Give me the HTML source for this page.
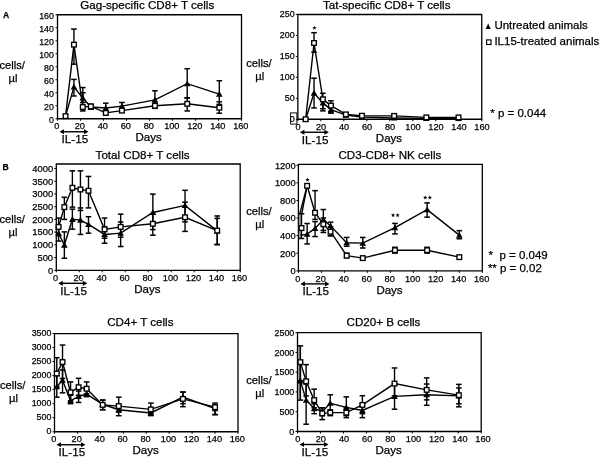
<!DOCTYPE html>
<html><head><meta charset="utf-8"><style>
html,body{margin:0;padding:0;background:#fff;}
body{width:600px;height:457px;overflow:hidden;}
svg{display:block;will-change:transform;}
text{font-family:"Liberation Sans", sans-serif;fill:#000;stroke:#000;stroke-width:0.25px;}
</style></head><body>
<svg width="600" height="457" viewBox="0 0 600 457">
<path d="M57.50 14.75 H241.50 V118.75 H57.50 Z" fill="none" stroke="#000" stroke-width="1.3"/>
<line x1="55.50" y1="118.75" x2="57.50" y2="118.75" stroke="#000" stroke-width="1"/>
<text x="53.90" y="122.65" font-size="8.8" text-anchor="end" font-weight="normal">0</text>
<line x1="55.50" y1="105.75" x2="57.50" y2="105.75" stroke="#000" stroke-width="1"/>
<text x="53.90" y="109.65" font-size="8.8" text-anchor="end" font-weight="normal">20</text>
<line x1="55.50" y1="92.75" x2="57.50" y2="92.75" stroke="#000" stroke-width="1"/>
<text x="53.90" y="96.65" font-size="8.8" text-anchor="end" font-weight="normal">40</text>
<line x1="55.50" y1="79.75" x2="57.50" y2="79.75" stroke="#000" stroke-width="1"/>
<text x="53.90" y="83.65" font-size="8.8" text-anchor="end" font-weight="normal">60</text>
<line x1="55.50" y1="66.75" x2="57.50" y2="66.75" stroke="#000" stroke-width="1"/>
<text x="53.90" y="70.65" font-size="8.8" text-anchor="end" font-weight="normal">80</text>
<line x1="55.50" y1="53.75" x2="57.50" y2="53.75" stroke="#000" stroke-width="1"/>
<text x="53.90" y="57.65" font-size="8.8" text-anchor="end" font-weight="normal">100</text>
<line x1="55.50" y1="40.75" x2="57.50" y2="40.75" stroke="#000" stroke-width="1"/>
<text x="53.90" y="44.65" font-size="8.8" text-anchor="end" font-weight="normal">120</text>
<line x1="55.50" y1="27.75" x2="57.50" y2="27.75" stroke="#000" stroke-width="1"/>
<text x="53.90" y="31.65" font-size="8.8" text-anchor="end" font-weight="normal">140</text>
<line x1="55.50" y1="14.75" x2="57.50" y2="14.75" stroke="#000" stroke-width="1"/>
<text x="53.90" y="18.65" font-size="8.8" text-anchor="end" font-weight="normal">160</text>
<line x1="57.50" y1="118.75" x2="57.50" y2="120.75" stroke="#000" stroke-width="1"/>
<text x="56.80" y="129.35" font-size="9.2" text-anchor="middle" font-weight="normal">0</text>
<line x1="80.50" y1="118.75" x2="80.50" y2="120.75" stroke="#000" stroke-width="1"/>
<text x="79.80" y="129.35" font-size="9.2" text-anchor="middle" font-weight="normal">20</text>
<line x1="103.50" y1="118.75" x2="103.50" y2="120.75" stroke="#000" stroke-width="1"/>
<text x="102.80" y="129.35" font-size="9.2" text-anchor="middle" font-weight="normal">40</text>
<line x1="126.50" y1="118.75" x2="126.50" y2="120.75" stroke="#000" stroke-width="1"/>
<text x="125.80" y="129.35" font-size="9.2" text-anchor="middle" font-weight="normal">60</text>
<line x1="149.50" y1="118.75" x2="149.50" y2="120.75" stroke="#000" stroke-width="1"/>
<text x="148.80" y="129.35" font-size="9.2" text-anchor="middle" font-weight="normal">80</text>
<line x1="172.50" y1="118.75" x2="172.50" y2="120.75" stroke="#000" stroke-width="1"/>
<text x="171.80" y="129.35" font-size="9.2" text-anchor="middle" font-weight="normal">100</text>
<line x1="195.50" y1="118.75" x2="195.50" y2="120.75" stroke="#000" stroke-width="1"/>
<text x="194.80" y="129.35" font-size="9.2" text-anchor="middle" font-weight="normal">120</text>
<line x1="218.50" y1="118.75" x2="218.50" y2="120.75" stroke="#000" stroke-width="1"/>
<text x="217.80" y="129.35" font-size="9.2" text-anchor="middle" font-weight="normal">140</text>
<line x1="241.50" y1="118.75" x2="241.50" y2="120.75" stroke="#000" stroke-width="1"/>
<text x="240.80" y="129.35" font-size="9.2" text-anchor="middle" font-weight="normal">160</text>
<line x1="73.94" y1="29.05" x2="73.94" y2="64.15" stroke="#000" stroke-width="1.4"/>
<line x1="71.14" y1="29.05" x2="76.74" y2="29.05" stroke="#000" stroke-width="1.5"/>
<line x1="71.14" y1="64.15" x2="76.74" y2="64.15" stroke="#000" stroke-width="1.5"/>
<line x1="82.80" y1="87.55" x2="82.80" y2="110.95" stroke="#000" stroke-width="1.4"/>
<line x1="80.00" y1="87.55" x2="85.60" y2="87.55" stroke="#000" stroke-width="1.5"/>
<line x1="80.00" y1="110.95" x2="85.60" y2="110.95" stroke="#000" stroke-width="1.5"/>
<line x1="90.85" y1="104.45" x2="90.85" y2="108.35" stroke="#000" stroke-width="1.4"/>
<line x1="88.05" y1="104.45" x2="93.65" y2="104.45" stroke="#000" stroke-width="1.5"/>
<line x1="88.05" y1="108.35" x2="93.65" y2="108.35" stroke="#000" stroke-width="1.5"/>
<line x1="105.80" y1="110.95" x2="105.80" y2="114.85" stroke="#000" stroke-width="1.4"/>
<line x1="103.00" y1="110.95" x2="108.60" y2="110.95" stroke="#000" stroke-width="1.5"/>
<line x1="103.00" y1="114.85" x2="108.60" y2="114.85" stroke="#000" stroke-width="1.5"/>
<line x1="121.90" y1="109.00" x2="121.90" y2="112.25" stroke="#000" stroke-width="1.4"/>
<line x1="119.10" y1="109.00" x2="124.70" y2="109.00" stroke="#000" stroke-width="1.5"/>
<line x1="119.10" y1="112.25" x2="124.70" y2="112.25" stroke="#000" stroke-width="1.5"/>
<line x1="154.91" y1="103.15" x2="154.91" y2="108.35" stroke="#000" stroke-width="1.4"/>
<line x1="152.10" y1="103.15" x2="157.71" y2="103.15" stroke="#000" stroke-width="1.5"/>
<line x1="152.10" y1="108.35" x2="157.71" y2="108.35" stroke="#000" stroke-width="1.5"/>
<line x1="187.22" y1="97.95" x2="187.22" y2="110.95" stroke="#000" stroke-width="1.4"/>
<line x1="184.42" y1="97.95" x2="190.02" y2="97.95" stroke="#000" stroke-width="1.5"/>
<line x1="184.42" y1="110.95" x2="190.02" y2="110.95" stroke="#000" stroke-width="1.5"/>
<line x1="219.31" y1="101.85" x2="219.31" y2="113.22" stroke="#000" stroke-width="1.4"/>
<line x1="216.50" y1="101.85" x2="222.11" y2="101.85" stroke="#000" stroke-width="1.5"/>
<line x1="216.50" y1="113.22" x2="222.11" y2="113.22" stroke="#000" stroke-width="1.5"/>
<line x1="73.94" y1="79.42" x2="73.94" y2="96.00" stroke="#000" stroke-width="1.4"/>
<line x1="71.14" y1="79.42" x2="76.74" y2="79.42" stroke="#000" stroke-width="1.5"/>
<line x1="71.14" y1="96.00" x2="76.74" y2="96.00" stroke="#000" stroke-width="1.5"/>
<line x1="82.80" y1="92.75" x2="82.80" y2="102.50" stroke="#000" stroke-width="1.4"/>
<line x1="80.00" y1="92.75" x2="85.60" y2="92.75" stroke="#000" stroke-width="1.5"/>
<line x1="80.00" y1="102.50" x2="85.60" y2="102.50" stroke="#000" stroke-width="1.5"/>
<line x1="90.85" y1="104.45" x2="90.85" y2="109.00" stroke="#000" stroke-width="1.4"/>
<line x1="88.05" y1="104.45" x2="93.65" y2="104.45" stroke="#000" stroke-width="1.5"/>
<line x1="88.05" y1="109.00" x2="93.65" y2="109.00" stroke="#000" stroke-width="1.5"/>
<line x1="105.80" y1="103.15" x2="105.80" y2="111.60" stroke="#000" stroke-width="1.4"/>
<line x1="103.00" y1="103.15" x2="108.60" y2="103.15" stroke="#000" stroke-width="1.5"/>
<line x1="103.00" y1="111.60" x2="108.60" y2="111.60" stroke="#000" stroke-width="1.5"/>
<line x1="121.90" y1="102.50" x2="121.90" y2="109.00" stroke="#000" stroke-width="1.4"/>
<line x1="119.10" y1="102.50" x2="124.70" y2="102.50" stroke="#000" stroke-width="1.5"/>
<line x1="119.10" y1="109.00" x2="124.70" y2="109.00" stroke="#000" stroke-width="1.5"/>
<line x1="154.91" y1="90.80" x2="154.91" y2="105.75" stroke="#000" stroke-width="1.4"/>
<line x1="152.10" y1="90.80" x2="157.71" y2="90.80" stroke="#000" stroke-width="1.5"/>
<line x1="152.10" y1="105.75" x2="157.71" y2="105.75" stroke="#000" stroke-width="1.5"/>
<line x1="187.22" y1="68.70" x2="187.22" y2="97.95" stroke="#000" stroke-width="1.4"/>
<line x1="184.42" y1="68.70" x2="190.02" y2="68.70" stroke="#000" stroke-width="1.5"/>
<line x1="184.42" y1="97.95" x2="190.02" y2="97.95" stroke="#000" stroke-width="1.5"/>
<line x1="219.31" y1="80.72" x2="219.31" y2="104.45" stroke="#000" stroke-width="1.4"/>
<line x1="216.50" y1="80.72" x2="222.11" y2="80.72" stroke="#000" stroke-width="1.5"/>
<line x1="216.50" y1="104.45" x2="222.11" y2="104.45" stroke="#000" stroke-width="1.5"/>
<polyline points="65.55,116.15 73.94,44.65 82.80,107.05 90.85,106.40 105.80,112.90 121.90,110.62 154.91,105.75 187.22,103.80 219.31,107.70" fill="none" stroke="#000" stroke-width="1.4" stroke-linejoin="miter"/>
<polyline points="65.55,116.15 73.94,86.90 82.80,97.95 90.85,107.05 105.80,108.03 121.90,106.08 154.91,99.90 187.22,83.65 219.31,94.05" fill="none" stroke="#000" stroke-width="1.4" stroke-linejoin="miter"/>
<path d="M62.25 118.76 L65.55 112.96 L68.85 118.76 Z" fill="#000"/>
<path d="M70.64 89.51 L73.94 83.71 L77.24 89.51 Z" fill="#000"/>
<path d="M79.50 100.56 L82.80 94.76 L86.10 100.56 Z" fill="#000"/>
<path d="M87.55 109.66 L90.85 103.86 L94.15 109.66 Z" fill="#000"/>
<path d="M102.50 110.64 L105.80 104.84 L109.10 110.64 Z" fill="#000"/>
<path d="M118.60 108.69 L121.90 102.89 L125.20 108.69 Z" fill="#000"/>
<path d="M151.60 102.51 L154.91 96.71 L158.21 102.51 Z" fill="#000"/>
<path d="M183.92 86.26 L187.22 80.46 L190.52 86.26 Z" fill="#000"/>
<path d="M216.00 96.66 L219.31 90.86 L222.61 96.66 Z" fill="#000"/>
<rect x="63.22" y="113.83" width="4.65" height="4.65" fill="#fff" stroke="#000" stroke-width="1.35"/>
<rect x="71.62" y="42.33" width="4.65" height="4.65" fill="#fff" stroke="#000" stroke-width="1.35"/>
<rect x="80.47" y="104.72" width="4.65" height="4.65" fill="#fff" stroke="#000" stroke-width="1.35"/>
<rect x="88.52" y="104.08" width="4.65" height="4.65" fill="#fff" stroke="#000" stroke-width="1.35"/>
<rect x="103.47" y="110.58" width="4.65" height="4.65" fill="#fff" stroke="#000" stroke-width="1.35"/>
<rect x="119.58" y="108.30" width="4.65" height="4.65" fill="#fff" stroke="#000" stroke-width="1.35"/>
<rect x="152.58" y="103.42" width="4.65" height="4.65" fill="#fff" stroke="#000" stroke-width="1.35"/>
<rect x="184.90" y="101.47" width="4.65" height="4.65" fill="#fff" stroke="#000" stroke-width="1.35"/>
<rect x="216.98" y="105.38" width="4.65" height="4.65" fill="#fff" stroke="#000" stroke-width="1.35"/>
<line x1="62.50" y1="131.75" x2="85.50" y2="131.75" stroke="#000" stroke-width="1.4"/>
<path d="M59.50 131.75 L64.00 129.15 L64.00 134.35 Z" fill="#000"/>
<path d="M88.50 131.75 L84.00 129.15 L84.00 134.35 Z" fill="#000"/>
<text x="61.50" y="143.25" font-size="11.7" text-anchor="start" font-weight="normal">IL-15</text>
<text x="135.50" y="141.35" font-size="11.5" text-anchor="start" font-weight="normal">Days</text>
<text x="80.30" y="8.50" font-size="11.6" text-anchor="start" font-weight="normal">Gag-specific CD8+ T cells</text>
<text x="-0.60" y="68.50" font-size="11.2" text-anchor="start" font-weight="normal">cells/</text>
<text x="8.50" y="81.90" font-size="11.2" text-anchor="start" font-weight="normal">µl</text>
<path d="M297.85 14.50 H481.75 V119.25 H297.85 Z" fill="none" stroke="#000" stroke-width="1.3"/>
<line x1="295.85" y1="119.25" x2="297.85" y2="119.25" stroke="#000" stroke-width="1"/>
<text x="294.65" y="122.15" font-size="8.9" text-anchor="end" font-weight="normal">0</text>
<line x1="295.85" y1="98.30" x2="297.85" y2="98.30" stroke="#000" stroke-width="1"/>
<text x="294.65" y="101.20" font-size="8.9" text-anchor="end" font-weight="normal">50</text>
<line x1="295.85" y1="77.35" x2="297.85" y2="77.35" stroke="#000" stroke-width="1"/>
<text x="294.65" y="80.25" font-size="8.9" text-anchor="end" font-weight="normal">100</text>
<line x1="295.85" y1="56.40" x2="297.85" y2="56.40" stroke="#000" stroke-width="1"/>
<text x="294.65" y="59.30" font-size="8.9" text-anchor="end" font-weight="normal">150</text>
<line x1="295.85" y1="35.45" x2="297.85" y2="35.45" stroke="#000" stroke-width="1"/>
<text x="294.65" y="38.35" font-size="8.9" text-anchor="end" font-weight="normal">200</text>
<line x1="295.85" y1="14.50" x2="297.85" y2="14.50" stroke="#000" stroke-width="1"/>
<text x="294.65" y="17.40" font-size="8.9" text-anchor="end" font-weight="normal">250</text>
<line x1="297.85" y1="119.25" x2="297.85" y2="121.25" stroke="#000" stroke-width="1"/>
<text x="298.05" y="129.85" font-size="9.2" text-anchor="middle" font-weight="normal">0</text>
<line x1="320.84" y1="119.25" x2="320.84" y2="121.25" stroke="#000" stroke-width="1"/>
<text x="321.04" y="129.85" font-size="9.2" text-anchor="middle" font-weight="normal">20</text>
<line x1="343.83" y1="119.25" x2="343.83" y2="121.25" stroke="#000" stroke-width="1"/>
<text x="344.03" y="129.85" font-size="9.2" text-anchor="middle" font-weight="normal">40</text>
<line x1="366.81" y1="119.25" x2="366.81" y2="121.25" stroke="#000" stroke-width="1"/>
<text x="367.01" y="129.85" font-size="9.2" text-anchor="middle" font-weight="normal">60</text>
<line x1="389.80" y1="119.25" x2="389.80" y2="121.25" stroke="#000" stroke-width="1"/>
<text x="390.00" y="129.85" font-size="9.2" text-anchor="middle" font-weight="normal">80</text>
<line x1="412.79" y1="119.25" x2="412.79" y2="121.25" stroke="#000" stroke-width="1"/>
<text x="412.99" y="129.85" font-size="9.2" text-anchor="middle" font-weight="normal">100</text>
<line x1="435.77" y1="119.25" x2="435.77" y2="121.25" stroke="#000" stroke-width="1"/>
<text x="435.97" y="129.85" font-size="9.2" text-anchor="middle" font-weight="normal">120</text>
<line x1="458.76" y1="119.25" x2="458.76" y2="121.25" stroke="#000" stroke-width="1"/>
<text x="458.96" y="129.85" font-size="9.2" text-anchor="middle" font-weight="normal">140</text>
<line x1="481.75" y1="119.25" x2="481.75" y2="121.25" stroke="#000" stroke-width="1"/>
<text x="481.95" y="129.85" font-size="9.2" text-anchor="middle" font-weight="normal">160</text>
<line x1="314.04" y1="32.68" x2="314.04" y2="52.21" stroke="#000" stroke-width="1.4"/>
<line x1="311.24" y1="32.68" x2="316.84" y2="32.68" stroke="#000" stroke-width="1.5"/>
<line x1="311.24" y1="52.21" x2="316.84" y2="52.21" stroke="#000" stroke-width="1.5"/>
<line x1="322.89" y1="93.27" x2="322.89" y2="110.87" stroke="#000" stroke-width="1.4"/>
<line x1="320.09" y1="93.27" x2="325.69" y2="93.27" stroke="#000" stroke-width="1.5"/>
<line x1="320.09" y1="110.87" x2="325.69" y2="110.87" stroke="#000" stroke-width="1.5"/>
<line x1="330.93" y1="100.81" x2="330.93" y2="112.97" stroke="#000" stroke-width="1.4"/>
<line x1="328.13" y1="100.81" x2="333.73" y2="100.81" stroke="#000" stroke-width="1.5"/>
<line x1="328.13" y1="112.97" x2="333.73" y2="112.97" stroke="#000" stroke-width="1.5"/>
<line x1="345.87" y1="112.97" x2="345.87" y2="115.90" stroke="#000" stroke-width="1.4"/>
<line x1="343.07" y1="112.97" x2="348.67" y2="112.97" stroke="#000" stroke-width="1.5"/>
<line x1="343.07" y1="115.90" x2="348.67" y2="115.90" stroke="#000" stroke-width="1.5"/>
<line x1="361.97" y1="115.06" x2="361.97" y2="116.74" stroke="#000" stroke-width="1.4"/>
<line x1="359.17" y1="115.06" x2="364.77" y2="115.06" stroke="#000" stroke-width="1.5"/>
<line x1="359.17" y1="116.74" x2="364.77" y2="116.74" stroke="#000" stroke-width="1.5"/>
<line x1="394.15" y1="115.06" x2="394.15" y2="116.74" stroke="#000" stroke-width="1.4"/>
<line x1="391.35" y1="115.06" x2="396.95" y2="115.06" stroke="#000" stroke-width="1.5"/>
<line x1="391.35" y1="116.74" x2="396.95" y2="116.74" stroke="#000" stroke-width="1.5"/>
<line x1="314.04" y1="78.19" x2="314.04" y2="107.94" stroke="#000" stroke-width="1.4"/>
<line x1="311.24" y1="78.19" x2="316.84" y2="78.19" stroke="#000" stroke-width="1.5"/>
<line x1="311.24" y1="107.94" x2="316.84" y2="107.94" stroke="#000" stroke-width="1.5"/>
<line x1="322.89" y1="98.30" x2="322.89" y2="108.78" stroke="#000" stroke-width="1.4"/>
<line x1="320.09" y1="98.30" x2="325.69" y2="98.30" stroke="#000" stroke-width="1.5"/>
<line x1="320.09" y1="108.78" x2="325.69" y2="108.78" stroke="#000" stroke-width="1.5"/>
<line x1="330.93" y1="106.68" x2="330.93" y2="112.97" stroke="#000" stroke-width="1.4"/>
<line x1="328.13" y1="106.68" x2="333.73" y2="106.68" stroke="#000" stroke-width="1.5"/>
<line x1="328.13" y1="112.97" x2="333.73" y2="112.97" stroke="#000" stroke-width="1.5"/>
<polyline points="305.65,119.25 314.04,42.99 322.89,99.31 330.93,105.59 345.87,114.39 361.97,115.73 394.15,115.90 426.33,117.41 458.51,117.41" fill="none" stroke="#000" stroke-width="1.4" stroke-linejoin="miter"/>
<polyline points="305.65,119.25 314.04,93.02 322.89,102.91 330.93,109.61 345.87,115.06 361.97,117.16 394.15,117.99 426.33,118.41 458.51,118.41" fill="none" stroke="#000" stroke-width="1.4" stroke-linejoin="miter"/>
<path d="M302.35 121.86 L305.65 116.06 L308.95 121.86 Z" fill="#000"/>
<path d="M310.74 95.63 L314.04 89.83 L317.34 95.63 Z" fill="#000"/>
<path d="M319.59 105.52 L322.89 99.72 L326.19 105.52 Z" fill="#000"/>
<path d="M327.63 112.22 L330.93 106.42 L334.23 112.22 Z" fill="#000"/>
<path d="M342.57 117.67 L345.87 111.87 L349.17 117.67 Z" fill="#000"/>
<path d="M358.67 119.77 L361.97 113.97 L365.27 119.77 Z" fill="#000"/>
<path d="M390.85 120.60 L394.15 114.80 L397.45 120.60 Z" fill="#000"/>
<path d="M423.03 121.02 L426.33 115.22 L429.63 121.02 Z" fill="#000"/>
<path d="M455.21 121.02 L458.51 115.22 L461.81 121.02 Z" fill="#000"/>
<rect x="303.32" y="116.92" width="4.65" height="4.65" fill="#fff" stroke="#000" stroke-width="1.35"/>
<rect x="311.71" y="40.67" width="4.65" height="4.65" fill="#fff" stroke="#000" stroke-width="1.35"/>
<rect x="320.56" y="96.98" width="4.65" height="4.65" fill="#fff" stroke="#000" stroke-width="1.35"/>
<rect x="328.61" y="103.27" width="4.65" height="4.65" fill="#fff" stroke="#000" stroke-width="1.35"/>
<rect x="343.55" y="112.06" width="4.65" height="4.65" fill="#fff" stroke="#000" stroke-width="1.35"/>
<rect x="359.64" y="113.41" width="4.65" height="4.65" fill="#fff" stroke="#000" stroke-width="1.35"/>
<rect x="391.82" y="113.57" width="4.65" height="4.65" fill="#fff" stroke="#000" stroke-width="1.35"/>
<rect x="424.00" y="115.08" width="4.65" height="4.65" fill="#fff" stroke="#000" stroke-width="1.35"/>
<rect x="456.19" y="115.08" width="4.65" height="4.65" fill="#fff" stroke="#000" stroke-width="1.35"/>
<polygon points="314.44,25.65 314.99,27.13 316.58,27.20 315.34,28.19 315.76,29.72 314.44,28.85 313.11,29.72 313.53,28.19 312.30,27.20 313.88,27.13" fill="#000"/>
<line x1="302.85" y1="132.25" x2="325.85" y2="132.25" stroke="#000" stroke-width="1.4"/>
<path d="M299.85 132.25 L304.35 129.65 L304.35 134.85 Z" fill="#000"/>
<path d="M328.85 132.25 L324.35 129.65 L324.35 134.85 Z" fill="#000"/>
<text x="301.85" y="143.75" font-size="11.7" text-anchor="start" font-weight="normal">IL-15</text>
<text x="375.85" y="141.85" font-size="11.5" text-anchor="start" font-weight="normal">Days</text>
<text x="323.00" y="8.50" font-size="11.6" text-anchor="start" font-weight="normal">Tat-specific CD8+ T cells</text>
<text x="246.20" y="66.80" font-size="11.2" text-anchor="start" font-weight="normal">cells/</text>
<text x="255.30" y="80.20" font-size="11.2" text-anchor="start" font-weight="normal">µl</text>
<path d="M56.30 164.00 H240.20 V270.30 H56.30 Z" fill="none" stroke="#000" stroke-width="1.3"/>
<line x1="54.30" y1="270.30" x2="56.30" y2="270.30" stroke="#000" stroke-width="1"/>
<text x="53.10" y="273.60" font-size="9.4" text-anchor="end" font-weight="normal">0</text>
<line x1="54.30" y1="257.57" x2="56.30" y2="257.57" stroke="#000" stroke-width="1"/>
<text x="53.10" y="260.88" font-size="9.4" text-anchor="end" font-weight="normal">500</text>
<line x1="54.30" y1="244.85" x2="56.30" y2="244.85" stroke="#000" stroke-width="1"/>
<text x="53.10" y="248.15" font-size="9.4" text-anchor="end" font-weight="normal">1000</text>
<line x1="54.30" y1="232.12" x2="56.30" y2="232.12" stroke="#000" stroke-width="1"/>
<text x="53.10" y="235.43" font-size="9.4" text-anchor="end" font-weight="normal">1500</text>
<line x1="54.30" y1="219.40" x2="56.30" y2="219.40" stroke="#000" stroke-width="1"/>
<text x="53.10" y="222.70" font-size="9.4" text-anchor="end" font-weight="normal">2000</text>
<line x1="54.30" y1="206.68" x2="56.30" y2="206.68" stroke="#000" stroke-width="1"/>
<text x="53.10" y="209.98" font-size="9.4" text-anchor="end" font-weight="normal">2500</text>
<line x1="54.30" y1="193.95" x2="56.30" y2="193.95" stroke="#000" stroke-width="1"/>
<text x="53.10" y="197.25" font-size="9.4" text-anchor="end" font-weight="normal">3000</text>
<line x1="54.30" y1="181.22" x2="56.30" y2="181.22" stroke="#000" stroke-width="1"/>
<text x="53.10" y="184.53" font-size="9.4" text-anchor="end" font-weight="normal">3500</text>
<line x1="54.30" y1="168.50" x2="56.30" y2="168.50" stroke="#000" stroke-width="1"/>
<text x="53.10" y="171.80" font-size="9.4" text-anchor="end" font-weight="normal">4000</text>
<line x1="56.30" y1="270.30" x2="56.30" y2="272.30" stroke="#000" stroke-width="1"/>
<text x="55.60" y="280.90" font-size="9.2" text-anchor="middle" font-weight="normal">0</text>
<line x1="79.29" y1="270.30" x2="79.29" y2="272.30" stroke="#000" stroke-width="1"/>
<text x="78.59" y="280.90" font-size="9.2" text-anchor="middle" font-weight="normal">20</text>
<line x1="102.27" y1="270.30" x2="102.27" y2="272.30" stroke="#000" stroke-width="1"/>
<text x="101.57" y="280.90" font-size="9.2" text-anchor="middle" font-weight="normal">40</text>
<line x1="125.26" y1="270.30" x2="125.26" y2="272.30" stroke="#000" stroke-width="1"/>
<text x="124.56" y="280.90" font-size="9.2" text-anchor="middle" font-weight="normal">60</text>
<line x1="148.25" y1="270.30" x2="148.25" y2="272.30" stroke="#000" stroke-width="1"/>
<text x="147.55" y="280.90" font-size="9.2" text-anchor="middle" font-weight="normal">80</text>
<line x1="171.24" y1="270.30" x2="171.24" y2="272.30" stroke="#000" stroke-width="1"/>
<text x="170.54" y="280.90" font-size="9.2" text-anchor="middle" font-weight="normal">100</text>
<line x1="194.22" y1="270.30" x2="194.22" y2="272.30" stroke="#000" stroke-width="1"/>
<text x="193.52" y="280.90" font-size="9.2" text-anchor="middle" font-weight="normal">120</text>
<line x1="217.21" y1="270.30" x2="217.21" y2="272.30" stroke="#000" stroke-width="1"/>
<text x="216.51" y="280.90" font-size="9.2" text-anchor="middle" font-weight="normal">140</text>
<line x1="240.20" y1="270.30" x2="240.20" y2="272.30" stroke="#000" stroke-width="1"/>
<text x="239.50" y="280.90" font-size="9.2" text-anchor="middle" font-weight="normal">160</text>
<line x1="58.60" y1="218.05" x2="58.60" y2="235.69" stroke="#000" stroke-width="1.4"/>
<line x1="55.80" y1="218.05" x2="61.40" y2="218.05" stroke="#000" stroke-width="1.5"/>
<line x1="55.80" y1="235.69" x2="61.40" y2="235.69" stroke="#000" stroke-width="1.5"/>
<line x1="64.35" y1="197.31" x2="64.35" y2="219.40" stroke="#000" stroke-width="1.4"/>
<line x1="61.55" y1="197.31" x2="67.15" y2="197.31" stroke="#000" stroke-width="1.5"/>
<line x1="61.55" y1="219.40" x2="67.15" y2="219.40" stroke="#000" stroke-width="1.5"/>
<line x1="72.39" y1="170.82" x2="72.39" y2="207.13" stroke="#000" stroke-width="1.4"/>
<line x1="69.59" y1="170.82" x2="75.19" y2="170.82" stroke="#000" stroke-width="1.5"/>
<line x1="69.59" y1="207.13" x2="75.19" y2="207.13" stroke="#000" stroke-width="1.5"/>
<line x1="80.44" y1="170.82" x2="80.44" y2="210.44" stroke="#000" stroke-width="1.4"/>
<line x1="77.64" y1="170.82" x2="83.24" y2="170.82" stroke="#000" stroke-width="1.5"/>
<line x1="77.64" y1="210.44" x2="83.24" y2="210.44" stroke="#000" stroke-width="1.5"/>
<line x1="88.48" y1="176.44" x2="88.48" y2="207.92" stroke="#000" stroke-width="1.4"/>
<line x1="85.68" y1="176.44" x2="91.28" y2="176.44" stroke="#000" stroke-width="1.5"/>
<line x1="85.68" y1="207.92" x2="91.28" y2="207.92" stroke="#000" stroke-width="1.5"/>
<line x1="104.57" y1="218.05" x2="104.57" y2="238.21" stroke="#000" stroke-width="1.4"/>
<line x1="101.77" y1="218.05" x2="107.37" y2="218.05" stroke="#000" stroke-width="1.5"/>
<line x1="101.77" y1="238.21" x2="107.37" y2="238.21" stroke="#000" stroke-width="1.5"/>
<line x1="120.66" y1="214.16" x2="120.66" y2="237.22" stroke="#000" stroke-width="1.4"/>
<line x1="117.86" y1="214.16" x2="123.46" y2="214.16" stroke="#000" stroke-width="1.5"/>
<line x1="117.86" y1="237.22" x2="123.46" y2="237.22" stroke="#000" stroke-width="1.5"/>
<line x1="152.85" y1="214.31" x2="152.85" y2="235.18" stroke="#000" stroke-width="1.4"/>
<line x1="150.05" y1="214.31" x2="155.65" y2="214.31" stroke="#000" stroke-width="1.5"/>
<line x1="150.05" y1="235.18" x2="155.65" y2="235.18" stroke="#000" stroke-width="1.5"/>
<line x1="185.03" y1="202.22" x2="185.03" y2="231.39" stroke="#000" stroke-width="1.4"/>
<line x1="182.23" y1="202.22" x2="187.83" y2="202.22" stroke="#000" stroke-width="1.5"/>
<line x1="182.23" y1="231.39" x2="187.83" y2="231.39" stroke="#000" stroke-width="1.5"/>
<line x1="217.21" y1="215.96" x2="217.21" y2="244.54" stroke="#000" stroke-width="1.4"/>
<line x1="214.41" y1="215.96" x2="220.01" y2="215.96" stroke="#000" stroke-width="1.5"/>
<line x1="214.41" y1="244.54" x2="220.01" y2="244.54" stroke="#000" stroke-width="1.5"/>
<line x1="58.60" y1="227.03" x2="58.60" y2="241.03" stroke="#000" stroke-width="1.4"/>
<line x1="55.80" y1="227.03" x2="61.40" y2="227.03" stroke="#000" stroke-width="1.5"/>
<line x1="55.80" y1="241.03" x2="61.40" y2="241.03" stroke="#000" stroke-width="1.5"/>
<line x1="64.35" y1="231.90" x2="64.35" y2="258.26" stroke="#000" stroke-width="1.4"/>
<line x1="61.55" y1="231.90" x2="67.15" y2="231.90" stroke="#000" stroke-width="1.5"/>
<line x1="61.55" y1="258.26" x2="67.15" y2="258.26" stroke="#000" stroke-width="1.5"/>
<line x1="72.39" y1="209.14" x2="72.39" y2="229.17" stroke="#000" stroke-width="1.4"/>
<line x1="69.59" y1="209.14" x2="75.19" y2="209.14" stroke="#000" stroke-width="1.5"/>
<line x1="69.59" y1="229.17" x2="75.19" y2="229.17" stroke="#000" stroke-width="1.5"/>
<line x1="80.44" y1="207.95" x2="80.44" y2="234.42" stroke="#000" stroke-width="1.4"/>
<line x1="77.64" y1="207.95" x2="83.24" y2="207.95" stroke="#000" stroke-width="1.5"/>
<line x1="77.64" y1="234.42" x2="83.24" y2="234.42" stroke="#000" stroke-width="1.5"/>
<line x1="88.48" y1="216.75" x2="88.48" y2="233.19" stroke="#000" stroke-width="1.4"/>
<line x1="85.68" y1="216.75" x2="91.28" y2="216.75" stroke="#000" stroke-width="1.5"/>
<line x1="85.68" y1="233.19" x2="91.28" y2="233.19" stroke="#000" stroke-width="1.5"/>
<line x1="104.57" y1="227.03" x2="104.57" y2="243.22" stroke="#000" stroke-width="1.4"/>
<line x1="101.77" y1="227.03" x2="107.37" y2="227.03" stroke="#000" stroke-width="1.5"/>
<line x1="101.77" y1="243.22" x2="107.37" y2="243.22" stroke="#000" stroke-width="1.5"/>
<line x1="120.66" y1="221.94" x2="120.66" y2="246.53" stroke="#000" stroke-width="1.4"/>
<line x1="117.86" y1="221.94" x2="123.46" y2="221.94" stroke="#000" stroke-width="1.5"/>
<line x1="117.86" y1="246.53" x2="123.46" y2="246.53" stroke="#000" stroke-width="1.5"/>
<line x1="152.85" y1="194.10" x2="152.85" y2="229.58" stroke="#000" stroke-width="1.4"/>
<line x1="150.05" y1="194.10" x2="155.65" y2="194.10" stroke="#000" stroke-width="1.5"/>
<line x1="150.05" y1="229.58" x2="155.65" y2="229.58" stroke="#000" stroke-width="1.5"/>
<line x1="185.03" y1="190.29" x2="185.03" y2="221.94" stroke="#000" stroke-width="1.4"/>
<line x1="182.23" y1="190.29" x2="187.83" y2="190.29" stroke="#000" stroke-width="1.5"/>
<line x1="182.23" y1="221.94" x2="187.83" y2="221.94" stroke="#000" stroke-width="1.5"/>
<line x1="217.21" y1="218.38" x2="217.21" y2="244.54" stroke="#000" stroke-width="1.4"/>
<line x1="214.41" y1="218.38" x2="220.01" y2="218.38" stroke="#000" stroke-width="1.5"/>
<line x1="214.41" y1="244.54" x2="220.01" y2="244.54" stroke="#000" stroke-width="1.5"/>
<polyline points="58.60,226.88 64.35,207.13 72.39,187.77 80.44,189.47 88.48,190.79 104.57,229.38 120.66,226.88 152.85,223.78 185.03,217.26 217.21,230.60" fill="none" stroke="#000" stroke-width="1.4" stroke-linejoin="miter"/>
<polyline points="58.60,233.19 64.35,245.03 72.39,219.27 80.44,220.06 88.48,224.39 104.57,234.42 120.66,233.19 152.85,212.45 185.03,205.43 217.21,230.85" fill="none" stroke="#000" stroke-width="1.4" stroke-linejoin="miter"/>
<path d="M55.30 235.80 L58.60 230.00 L61.90 235.80 Z" fill="#000"/>
<path d="M61.05 247.64 L64.35 241.84 L67.65 247.64 Z" fill="#000"/>
<path d="M69.09 221.88 L72.39 216.08 L75.69 221.88 Z" fill="#000"/>
<path d="M77.14 222.67 L80.44 216.87 L83.74 222.67 Z" fill="#000"/>
<path d="M85.18 227.00 L88.48 221.20 L91.78 227.00 Z" fill="#000"/>
<path d="M101.27 237.03 L104.57 231.23 L107.87 237.03 Z" fill="#000"/>
<path d="M117.36 235.80 L120.66 230.00 L123.96 235.80 Z" fill="#000"/>
<path d="M149.55 215.06 L152.85 209.26 L156.15 215.06 Z" fill="#000"/>
<path d="M181.73 208.04 L185.03 202.24 L188.33 208.04 Z" fill="#000"/>
<path d="M213.91 233.46 L217.21 227.66 L220.51 233.46 Z" fill="#000"/>
<rect x="56.27" y="224.56" width="4.65" height="4.65" fill="#fff" stroke="#000" stroke-width="1.35"/>
<rect x="62.02" y="204.81" width="4.65" height="4.65" fill="#fff" stroke="#000" stroke-width="1.35"/>
<rect x="70.07" y="185.44" width="4.65" height="4.65" fill="#fff" stroke="#000" stroke-width="1.35"/>
<rect x="78.11" y="187.15" width="4.65" height="4.65" fill="#fff" stroke="#000" stroke-width="1.35"/>
<rect x="86.16" y="188.47" width="4.65" height="4.65" fill="#fff" stroke="#000" stroke-width="1.35"/>
<rect x="102.25" y="227.05" width="4.65" height="4.65" fill="#fff" stroke="#000" stroke-width="1.35"/>
<rect x="118.34" y="224.56" width="4.65" height="4.65" fill="#fff" stroke="#000" stroke-width="1.35"/>
<rect x="150.52" y="221.45" width="4.65" height="4.65" fill="#fff" stroke="#000" stroke-width="1.35"/>
<rect x="182.70" y="214.94" width="4.65" height="4.65" fill="#fff" stroke="#000" stroke-width="1.35"/>
<rect x="214.89" y="228.27" width="4.65" height="4.65" fill="#fff" stroke="#000" stroke-width="1.35"/>
<line x1="61.30" y1="283.30" x2="84.30" y2="283.30" stroke="#000" stroke-width="1.4"/>
<path d="M58.30 283.30 L62.80 280.70 L62.80 285.90 Z" fill="#000"/>
<path d="M87.30 283.30 L82.80 280.70 L82.80 285.90 Z" fill="#000"/>
<text x="60.30" y="294.80" font-size="11.7" text-anchor="start" font-weight="normal">IL-15</text>
<text x="134.30" y="292.90" font-size="11.5" text-anchor="start" font-weight="normal">Days</text>
<text x="95.60" y="158.80" font-size="11.6" text-anchor="start" font-weight="normal">Total CD8+ T cells</text>
<text x="-0.60" y="222.50" font-size="11.2" text-anchor="start" font-weight="normal">cells/</text>
<text x="8.50" y="235.90" font-size="11.2" text-anchor="start" font-weight="normal">µl</text>
<path d="M298.40 164.30 H482.30 V270.90 H298.40 Z" fill="none" stroke="#000" stroke-width="1.3"/>
<line x1="296.40" y1="270.90" x2="298.40" y2="270.90" stroke="#000" stroke-width="1"/>
<text x="295.60" y="274.20" font-size="9.3" text-anchor="end" font-weight="normal">0</text>
<line x1="296.40" y1="253.28" x2="298.40" y2="253.28" stroke="#000" stroke-width="1"/>
<text x="295.60" y="256.58" font-size="9.3" text-anchor="end" font-weight="normal">200</text>
<line x1="296.40" y1="235.67" x2="298.40" y2="235.67" stroke="#000" stroke-width="1"/>
<text x="295.60" y="238.97" font-size="9.3" text-anchor="end" font-weight="normal">400</text>
<line x1="296.40" y1="218.05" x2="298.40" y2="218.05" stroke="#000" stroke-width="1"/>
<text x="295.60" y="221.35" font-size="9.3" text-anchor="end" font-weight="normal">600</text>
<line x1="296.40" y1="200.43" x2="298.40" y2="200.43" stroke="#000" stroke-width="1"/>
<text x="295.60" y="203.73" font-size="9.3" text-anchor="end" font-weight="normal">800</text>
<line x1="296.40" y1="182.82" x2="298.40" y2="182.82" stroke="#000" stroke-width="1"/>
<text x="295.60" y="186.12" font-size="9.3" text-anchor="end" font-weight="normal">1000</text>
<line x1="296.40" y1="165.20" x2="298.40" y2="165.20" stroke="#000" stroke-width="1"/>
<text x="295.60" y="168.50" font-size="9.3" text-anchor="end" font-weight="normal">1200</text>
<line x1="298.40" y1="270.90" x2="298.40" y2="272.90" stroke="#000" stroke-width="1"/>
<text x="297.70" y="281.50" font-size="9.2" text-anchor="middle" font-weight="normal">0</text>
<line x1="321.39" y1="270.90" x2="321.39" y2="272.90" stroke="#000" stroke-width="1"/>
<text x="320.69" y="281.50" font-size="9.2" text-anchor="middle" font-weight="normal">20</text>
<line x1="344.38" y1="270.90" x2="344.38" y2="272.90" stroke="#000" stroke-width="1"/>
<text x="343.68" y="281.50" font-size="9.2" text-anchor="middle" font-weight="normal">40</text>
<line x1="367.36" y1="270.90" x2="367.36" y2="272.90" stroke="#000" stroke-width="1"/>
<text x="366.66" y="281.50" font-size="9.2" text-anchor="middle" font-weight="normal">60</text>
<line x1="390.35" y1="270.90" x2="390.35" y2="272.90" stroke="#000" stroke-width="1"/>
<text x="389.65" y="281.50" font-size="9.2" text-anchor="middle" font-weight="normal">80</text>
<line x1="413.34" y1="270.90" x2="413.34" y2="272.90" stroke="#000" stroke-width="1"/>
<text x="412.64" y="281.50" font-size="9.2" text-anchor="middle" font-weight="normal">100</text>
<line x1="436.32" y1="270.90" x2="436.32" y2="272.90" stroke="#000" stroke-width="1"/>
<text x="435.62" y="281.50" font-size="9.2" text-anchor="middle" font-weight="normal">120</text>
<line x1="459.31" y1="270.90" x2="459.31" y2="272.90" stroke="#000" stroke-width="1"/>
<text x="458.61" y="281.50" font-size="9.2" text-anchor="middle" font-weight="normal">140</text>
<line x1="482.30" y1="270.90" x2="482.30" y2="272.90" stroke="#000" stroke-width="1"/>
<text x="481.60" y="281.50" font-size="9.2" text-anchor="middle" font-weight="normal">160</text>
<rect x="298.9" y="214.5" width="2.4" height="24" fill="#999"/>
<line x1="301.50" y1="213.82" x2="301.50" y2="238.49" stroke="#000" stroke-width="1.4"/>
<line x1="298.70" y1="213.82" x2="304.30" y2="213.82" stroke="#000" stroke-width="1.5"/>
<line x1="298.70" y1="238.49" x2="304.30" y2="238.49" stroke="#000" stroke-width="1.5"/>
<line x1="315.07" y1="190.66" x2="315.07" y2="219.37" stroke="#000" stroke-width="1.4"/>
<line x1="312.27" y1="190.66" x2="317.87" y2="190.66" stroke="#000" stroke-width="1.5"/>
<line x1="312.27" y1="219.37" x2="317.87" y2="219.37" stroke="#000" stroke-width="1.5"/>
<line x1="323.34" y1="218.05" x2="323.34" y2="230.38" stroke="#000" stroke-width="1.4"/>
<line x1="320.54" y1="218.05" x2="326.14" y2="218.05" stroke="#000" stroke-width="1.5"/>
<line x1="320.54" y1="230.38" x2="326.14" y2="230.38" stroke="#000" stroke-width="1.5"/>
<line x1="330.58" y1="226.86" x2="330.58" y2="235.75" stroke="#000" stroke-width="1.4"/>
<line x1="327.78" y1="226.86" x2="333.38" y2="226.86" stroke="#000" stroke-width="1.5"/>
<line x1="327.78" y1="235.75" x2="333.38" y2="235.75" stroke="#000" stroke-width="1.5"/>
<line x1="346.67" y1="253.28" x2="346.67" y2="257.69" stroke="#000" stroke-width="1.4"/>
<line x1="343.87" y1="253.28" x2="349.47" y2="253.28" stroke="#000" stroke-width="1.5"/>
<line x1="343.87" y1="257.69" x2="349.47" y2="257.69" stroke="#000" stroke-width="1.5"/>
<line x1="362.76" y1="256.81" x2="362.76" y2="259.45" stroke="#000" stroke-width="1.4"/>
<line x1="359.96" y1="256.81" x2="365.56" y2="256.81" stroke="#000" stroke-width="1.5"/>
<line x1="359.96" y1="259.45" x2="365.56" y2="259.45" stroke="#000" stroke-width="1.5"/>
<line x1="394.95" y1="247.29" x2="394.95" y2="253.11" stroke="#000" stroke-width="1.4"/>
<line x1="392.15" y1="247.29" x2="397.75" y2="247.29" stroke="#000" stroke-width="1.5"/>
<line x1="392.15" y1="253.11" x2="397.75" y2="253.11" stroke="#000" stroke-width="1.5"/>
<line x1="427.13" y1="247.29" x2="427.13" y2="253.11" stroke="#000" stroke-width="1.4"/>
<line x1="424.33" y1="247.29" x2="429.93" y2="247.29" stroke="#000" stroke-width="1.5"/>
<line x1="424.33" y1="253.11" x2="429.93" y2="253.11" stroke="#000" stroke-width="1.5"/>
<line x1="307.14" y1="223.51" x2="307.14" y2="243.95" stroke="#000" stroke-width="1.4"/>
<line x1="304.34" y1="223.51" x2="309.94" y2="223.51" stroke="#000" stroke-width="1.5"/>
<line x1="304.34" y1="243.95" x2="309.94" y2="243.95" stroke="#000" stroke-width="1.5"/>
<line x1="315.07" y1="221.57" x2="315.07" y2="236.55" stroke="#000" stroke-width="1.4"/>
<line x1="312.27" y1="221.57" x2="317.87" y2="221.57" stroke="#000" stroke-width="1.5"/>
<line x1="312.27" y1="236.55" x2="317.87" y2="236.55" stroke="#000" stroke-width="1.5"/>
<line x1="323.34" y1="209.51" x2="323.34" y2="232.50" stroke="#000" stroke-width="1.4"/>
<line x1="320.54" y1="209.51" x2="326.14" y2="209.51" stroke="#000" stroke-width="1.5"/>
<line x1="320.54" y1="232.50" x2="326.14" y2="232.50" stroke="#000" stroke-width="1.5"/>
<line x1="330.58" y1="222.19" x2="330.58" y2="235.75" stroke="#000" stroke-width="1.4"/>
<line x1="327.78" y1="222.19" x2="333.38" y2="222.19" stroke="#000" stroke-width="1.5"/>
<line x1="327.78" y1="235.75" x2="333.38" y2="235.75" stroke="#000" stroke-width="1.5"/>
<line x1="346.67" y1="237.43" x2="346.67" y2="246.24" stroke="#000" stroke-width="1.4"/>
<line x1="343.87" y1="237.43" x2="349.47" y2="237.43" stroke="#000" stroke-width="1.5"/>
<line x1="343.87" y1="246.24" x2="349.47" y2="246.24" stroke="#000" stroke-width="1.5"/>
<line x1="362.76" y1="237.43" x2="362.76" y2="248.00" stroke="#000" stroke-width="1.4"/>
<line x1="359.96" y1="237.43" x2="365.56" y2="237.43" stroke="#000" stroke-width="1.5"/>
<line x1="359.96" y1="248.00" x2="365.56" y2="248.00" stroke="#000" stroke-width="1.5"/>
<line x1="394.95" y1="223.42" x2="394.95" y2="233.90" stroke="#000" stroke-width="1.4"/>
<line x1="392.15" y1="223.42" x2="397.75" y2="223.42" stroke="#000" stroke-width="1.5"/>
<line x1="392.15" y1="233.90" x2="397.75" y2="233.90" stroke="#000" stroke-width="1.5"/>
<line x1="427.13" y1="202.90" x2="427.13" y2="217.17" stroke="#000" stroke-width="1.4"/>
<line x1="424.33" y1="202.90" x2="429.93" y2="202.90" stroke="#000" stroke-width="1.5"/>
<line x1="424.33" y1="217.17" x2="429.93" y2="217.17" stroke="#000" stroke-width="1.5"/>
<line x1="459.31" y1="230.65" x2="459.31" y2="238.75" stroke="#000" stroke-width="1.4"/>
<line x1="456.51" y1="230.65" x2="462.11" y2="230.65" stroke="#000" stroke-width="1.5"/>
<line x1="456.51" y1="238.75" x2="462.11" y2="238.75" stroke="#000" stroke-width="1.5"/>
<polyline points="301.73,213.82 307.14,185.81 315.07,212.76 323.34,224.22 330.58,231.70 346.67,255.66 362.76,258.13 394.95,250.20 427.13,250.20 459.31,257.16" fill="none" stroke="#000" stroke-width="1.4" stroke-linejoin="miter"/>
<polyline points="300.70,235.23 307.14,234.08 315.07,228.36 323.34,219.37 330.58,225.89 346.67,242.71 362.76,243.15 394.95,227.65 427.13,209.68 459.31,235.14" fill="none" stroke="#000" stroke-width="1.4" stroke-linejoin="miter"/>
<line x1="299.78" y1="213.82" x2="307.14" y2="185.81" stroke="#000" stroke-width="1.4"/>
<path d="M303.84 236.69 L307.14 230.89 L310.44 236.69 Z" fill="#000"/>
<path d="M311.77 230.97 L315.07 225.17 L318.37 230.97 Z" fill="#000"/>
<path d="M320.04 221.98 L323.34 216.18 L326.64 221.98 Z" fill="#000"/>
<path d="M327.28 228.50 L330.58 222.70 L333.88 228.50 Z" fill="#000"/>
<path d="M343.37 245.32 L346.67 239.52 L349.97 245.32 Z" fill="#000"/>
<path d="M359.46 245.76 L362.76 239.96 L366.06 245.76 Z" fill="#000"/>
<path d="M391.65 230.26 L394.95 224.46 L398.25 230.26 Z" fill="#000"/>
<path d="M423.83 212.29 L427.13 206.49 L430.43 212.29 Z" fill="#000"/>
<path d="M456.01 237.75 L459.31 231.95 L462.61 237.75 Z" fill="#000"/>
<rect x="299.18" y="225.77" width="4.65" height="4.65" fill="#fff" stroke="#000" stroke-width="1.35"/>
<rect x="304.81" y="183.49" width="4.65" height="4.65" fill="#fff" stroke="#000" stroke-width="1.35"/>
<rect x="312.74" y="210.44" width="4.65" height="4.65" fill="#fff" stroke="#000" stroke-width="1.35"/>
<rect x="321.02" y="221.89" width="4.65" height="4.65" fill="#fff" stroke="#000" stroke-width="1.35"/>
<rect x="328.26" y="229.38" width="4.65" height="4.65" fill="#fff" stroke="#000" stroke-width="1.35"/>
<rect x="344.35" y="253.34" width="4.65" height="4.65" fill="#fff" stroke="#000" stroke-width="1.35"/>
<rect x="360.44" y="255.80" width="4.65" height="4.65" fill="#fff" stroke="#000" stroke-width="1.35"/>
<rect x="392.62" y="247.88" width="4.65" height="4.65" fill="#fff" stroke="#000" stroke-width="1.35"/>
<rect x="424.81" y="247.88" width="4.65" height="4.65" fill="#fff" stroke="#000" stroke-width="1.35"/>
<rect x="456.99" y="254.83" width="4.65" height="4.65" fill="#fff" stroke="#000" stroke-width="1.35"/>
<polygon points="307.54,177.55 308.09,179.03 309.68,179.10 308.44,180.09 308.86,181.62 307.54,180.75 306.21,181.62 306.63,180.09 305.40,179.10 306.98,179.03" fill="#000"/>
<polygon points="393.05,213.05 393.61,214.53 395.19,214.60 393.95,215.59 394.37,217.12 393.05,216.25 391.72,217.12 392.14,215.59 390.91,214.60 392.49,214.53" fill="#000"/>
<polygon points="397.65,213.05 398.21,214.53 399.79,214.60 398.55,215.59 398.97,217.12 397.65,216.25 396.32,217.12 396.74,215.59 395.51,214.60 397.09,214.53" fill="#000"/>
<polygon points="425.23,195.35 425.79,196.83 427.37,196.90 426.13,197.89 426.55,199.42 425.23,198.55 423.91,199.42 424.33,197.89 423.09,196.90 424.67,196.83" fill="#000"/>
<polygon points="429.83,195.35 430.39,196.83 431.97,196.90 430.73,197.89 431.15,199.42 429.83,198.55 428.51,199.42 428.93,197.89 427.69,196.90 429.27,196.83" fill="#000"/>
<line x1="303.40" y1="283.90" x2="326.40" y2="283.90" stroke="#000" stroke-width="1.4"/>
<path d="M300.40 283.90 L304.90 281.30 L304.90 286.50 Z" fill="#000"/>
<path d="M329.40 283.90 L324.90 281.30 L324.90 286.50 Z" fill="#000"/>
<text x="302.40" y="295.40" font-size="11.7" text-anchor="start" font-weight="normal">IL-15</text>
<text x="376.40" y="293.50" font-size="11.5" text-anchor="start" font-weight="normal">Days</text>
<text x="338.50" y="158.80" font-size="11.6" text-anchor="start" font-weight="normal">CD3-CD8+ NK cells</text>
<text x="246.20" y="215.00" font-size="11.2" text-anchor="start" font-weight="normal">cells/</text>
<text x="255.30" y="228.40" font-size="11.2" text-anchor="start" font-weight="normal">µl</text>
<path d="M54.50 333.70 H238.00 V431.75 H54.50 Z" fill="none" stroke="#000" stroke-width="1.3"/>
<line x1="52.50" y1="431.75" x2="54.50" y2="431.75" stroke="#000" stroke-width="1"/>
<text x="51.30" y="434.45" font-size="8.8" text-anchor="end" font-weight="normal">0</text>
<line x1="52.50" y1="417.71" x2="54.50" y2="417.71" stroke="#000" stroke-width="1"/>
<text x="51.30" y="420.41" font-size="8.8" text-anchor="end" font-weight="normal">500</text>
<line x1="52.50" y1="403.68" x2="54.50" y2="403.68" stroke="#000" stroke-width="1"/>
<text x="51.30" y="406.38" font-size="8.8" text-anchor="end" font-weight="normal">1000</text>
<line x1="52.50" y1="389.64" x2="54.50" y2="389.64" stroke="#000" stroke-width="1"/>
<text x="51.30" y="392.34" font-size="8.8" text-anchor="end" font-weight="normal">1500</text>
<line x1="52.50" y1="375.61" x2="54.50" y2="375.61" stroke="#000" stroke-width="1"/>
<text x="51.30" y="378.31" font-size="8.8" text-anchor="end" font-weight="normal">2000</text>
<line x1="52.50" y1="361.57" x2="54.50" y2="361.57" stroke="#000" stroke-width="1"/>
<text x="51.30" y="364.27" font-size="8.8" text-anchor="end" font-weight="normal">2500</text>
<line x1="52.50" y1="347.54" x2="54.50" y2="347.54" stroke="#000" stroke-width="1"/>
<text x="51.30" y="350.24" font-size="8.8" text-anchor="end" font-weight="normal">3000</text>
<line x1="52.50" y1="333.50" x2="54.50" y2="333.50" stroke="#000" stroke-width="1"/>
<text x="51.30" y="336.20" font-size="8.8" text-anchor="end" font-weight="normal">3500</text>
<line x1="54.50" y1="431.75" x2="54.50" y2="433.75" stroke="#000" stroke-width="1"/>
<text x="53.80" y="442.35" font-size="9.2" text-anchor="middle" font-weight="normal">0</text>
<line x1="77.44" y1="431.75" x2="77.44" y2="433.75" stroke="#000" stroke-width="1"/>
<text x="76.74" y="442.35" font-size="9.2" text-anchor="middle" font-weight="normal">20</text>
<line x1="100.38" y1="431.75" x2="100.38" y2="433.75" stroke="#000" stroke-width="1"/>
<text x="99.67" y="442.35" font-size="9.2" text-anchor="middle" font-weight="normal">40</text>
<line x1="123.31" y1="431.75" x2="123.31" y2="433.75" stroke="#000" stroke-width="1"/>
<text x="122.61" y="442.35" font-size="9.2" text-anchor="middle" font-weight="normal">60</text>
<line x1="146.25" y1="431.75" x2="146.25" y2="433.75" stroke="#000" stroke-width="1"/>
<text x="145.55" y="442.35" font-size="9.2" text-anchor="middle" font-weight="normal">80</text>
<line x1="169.19" y1="431.75" x2="169.19" y2="433.75" stroke="#000" stroke-width="1"/>
<text x="168.49" y="442.35" font-size="9.2" text-anchor="middle" font-weight="normal">100</text>
<line x1="192.12" y1="431.75" x2="192.12" y2="433.75" stroke="#000" stroke-width="1"/>
<text x="191.43" y="442.35" font-size="9.2" text-anchor="middle" font-weight="normal">120</text>
<line x1="215.06" y1="431.75" x2="215.06" y2="433.75" stroke="#000" stroke-width="1"/>
<text x="214.36" y="442.35" font-size="9.2" text-anchor="middle" font-weight="normal">140</text>
<line x1="238.00" y1="431.75" x2="238.00" y2="433.75" stroke="#000" stroke-width="1"/>
<text x="237.30" y="442.35" font-size="9.2" text-anchor="middle" font-weight="normal">160</text>
<line x1="56.79" y1="357.75" x2="56.79" y2="386.84" stroke="#000" stroke-width="1.4"/>
<line x1="53.99" y1="357.75" x2="59.59" y2="357.75" stroke="#000" stroke-width="1.5"/>
<line x1="53.99" y1="386.84" x2="59.59" y2="386.84" stroke="#000" stroke-width="1.5"/>
<line x1="62.53" y1="345.04" x2="62.53" y2="378.41" stroke="#000" stroke-width="1.4"/>
<line x1="59.73" y1="345.04" x2="65.33" y2="345.04" stroke="#000" stroke-width="1.5"/>
<line x1="59.73" y1="378.41" x2="65.33" y2="378.41" stroke="#000" stroke-width="1.5"/>
<line x1="70.56" y1="381.92" x2="70.56" y2="400.87" stroke="#000" stroke-width="1.4"/>
<line x1="67.76" y1="381.92" x2="73.36" y2="381.92" stroke="#000" stroke-width="1.5"/>
<line x1="67.76" y1="400.87" x2="73.36" y2="400.87" stroke="#000" stroke-width="1.5"/>
<line x1="78.58" y1="378.30" x2="78.58" y2="395.26" stroke="#000" stroke-width="1.4"/>
<line x1="75.78" y1="378.30" x2="81.38" y2="378.30" stroke="#000" stroke-width="1.5"/>
<line x1="75.78" y1="395.26" x2="81.38" y2="395.26" stroke="#000" stroke-width="1.5"/>
<line x1="86.61" y1="381.92" x2="86.61" y2="393.85" stroke="#000" stroke-width="1.4"/>
<line x1="83.81" y1="381.92" x2="89.41" y2="381.92" stroke="#000" stroke-width="1.5"/>
<line x1="83.81" y1="393.85" x2="89.41" y2="393.85" stroke="#000" stroke-width="1.5"/>
<line x1="102.67" y1="400.09" x2="102.67" y2="409.69" stroke="#000" stroke-width="1.4"/>
<line x1="99.87" y1="400.09" x2="105.47" y2="400.09" stroke="#000" stroke-width="1.5"/>
<line x1="99.87" y1="409.69" x2="105.47" y2="409.69" stroke="#000" stroke-width="1.5"/>
<line x1="118.72" y1="397.17" x2="118.72" y2="412.10" stroke="#000" stroke-width="1.4"/>
<line x1="115.92" y1="397.17" x2="121.52" y2="397.17" stroke="#000" stroke-width="1.5"/>
<line x1="115.92" y1="412.10" x2="121.52" y2="412.10" stroke="#000" stroke-width="1.5"/>
<line x1="150.84" y1="403.09" x2="150.84" y2="413.50" stroke="#000" stroke-width="1.4"/>
<line x1="148.04" y1="403.09" x2="153.64" y2="403.09" stroke="#000" stroke-width="1.5"/>
<line x1="148.04" y1="413.50" x2="153.64" y2="413.50" stroke="#000" stroke-width="1.5"/>
<line x1="182.95" y1="392.06" x2="182.95" y2="406.68" stroke="#000" stroke-width="1.4"/>
<line x1="180.15" y1="392.06" x2="185.75" y2="392.06" stroke="#000" stroke-width="1.5"/>
<line x1="180.15" y1="406.68" x2="185.75" y2="406.68" stroke="#000" stroke-width="1.5"/>
<line x1="215.06" y1="403.09" x2="215.06" y2="414.60" stroke="#000" stroke-width="1.4"/>
<line x1="212.26" y1="403.09" x2="217.86" y2="403.09" stroke="#000" stroke-width="1.5"/>
<line x1="212.26" y1="414.60" x2="217.86" y2="414.60" stroke="#000" stroke-width="1.5"/>
<line x1="56.79" y1="375.61" x2="56.79" y2="397.17" stroke="#000" stroke-width="1.4"/>
<line x1="53.99" y1="375.61" x2="59.59" y2="375.61" stroke="#000" stroke-width="1.5"/>
<line x1="53.99" y1="397.17" x2="59.59" y2="397.17" stroke="#000" stroke-width="1.5"/>
<line x1="62.53" y1="369.99" x2="62.53" y2="392.84" stroke="#000" stroke-width="1.4"/>
<line x1="59.73" y1="369.99" x2="65.33" y2="369.99" stroke="#000" stroke-width="1.5"/>
<line x1="59.73" y1="392.84" x2="65.33" y2="392.84" stroke="#000" stroke-width="1.5"/>
<line x1="70.56" y1="395.26" x2="70.56" y2="403.68" stroke="#000" stroke-width="1.4"/>
<line x1="67.76" y1="395.26" x2="73.36" y2="395.26" stroke="#000" stroke-width="1.5"/>
<line x1="67.76" y1="403.68" x2="73.36" y2="403.68" stroke="#000" stroke-width="1.5"/>
<line x1="78.58" y1="391.05" x2="78.58" y2="402.47" stroke="#000" stroke-width="1.4"/>
<line x1="75.78" y1="391.05" x2="81.38" y2="391.05" stroke="#000" stroke-width="1.5"/>
<line x1="75.78" y1="402.47" x2="81.38" y2="402.47" stroke="#000" stroke-width="1.5"/>
<line x1="86.61" y1="389.64" x2="86.61" y2="396.66" stroke="#000" stroke-width="1.4"/>
<line x1="83.81" y1="389.64" x2="89.41" y2="389.64" stroke="#000" stroke-width="1.5"/>
<line x1="83.81" y1="396.66" x2="89.41" y2="396.66" stroke="#000" stroke-width="1.5"/>
<line x1="102.67" y1="400.09" x2="102.67" y2="409.69" stroke="#000" stroke-width="1.4"/>
<line x1="99.87" y1="400.09" x2="105.47" y2="400.09" stroke="#000" stroke-width="1.5"/>
<line x1="99.87" y1="409.69" x2="105.47" y2="409.69" stroke="#000" stroke-width="1.5"/>
<line x1="118.72" y1="405.08" x2="118.72" y2="415.72" stroke="#000" stroke-width="1.4"/>
<line x1="115.92" y1="405.08" x2="121.52" y2="405.08" stroke="#000" stroke-width="1.5"/>
<line x1="115.92" y1="415.72" x2="121.52" y2="415.72" stroke="#000" stroke-width="1.5"/>
<line x1="150.84" y1="409.29" x2="150.84" y2="415.61" stroke="#000" stroke-width="1.4"/>
<line x1="148.04" y1="409.29" x2="153.64" y2="409.29" stroke="#000" stroke-width="1.5"/>
<line x1="148.04" y1="415.61" x2="153.64" y2="415.61" stroke="#000" stroke-width="1.5"/>
<line x1="182.95" y1="392.06" x2="182.95" y2="403.68" stroke="#000" stroke-width="1.4"/>
<line x1="180.15" y1="392.06" x2="185.75" y2="392.06" stroke="#000" stroke-width="1.5"/>
<line x1="180.15" y1="403.68" x2="185.75" y2="403.68" stroke="#000" stroke-width="1.5"/>
<line x1="215.06" y1="405.08" x2="215.06" y2="414.60" stroke="#000" stroke-width="1.4"/>
<line x1="212.26" y1="405.08" x2="217.86" y2="405.08" stroke="#000" stroke-width="1.5"/>
<line x1="212.26" y1="414.60" x2="217.86" y2="414.60" stroke="#000" stroke-width="1.5"/>
<polyline points="56.79,373.50 62.53,362.08 70.56,392.34 78.58,387.23 86.61,388.74 102.67,404.89 118.72,406.09 150.84,409.41 182.95,398.91 215.06,407.19" fill="none" stroke="#000" stroke-width="1.4" stroke-linejoin="miter"/>
<polyline points="56.79,386.72 62.53,380.21 70.56,400.76 78.58,396.46 86.61,394.05 102.67,404.24 118.72,409.69 150.84,412.91 182.95,397.08 215.06,408.59" fill="none" stroke="#000" stroke-width="1.4" stroke-linejoin="miter"/>
<path d="M53.49 389.33 L56.79 383.53 L60.09 389.33 Z" fill="#000"/>
<path d="M59.23 382.82 L62.53 377.02 L65.83 382.82 Z" fill="#000"/>
<path d="M67.26 403.37 L70.56 397.57 L73.86 403.37 Z" fill="#000"/>
<path d="M75.28 399.07 L78.58 393.27 L81.88 399.07 Z" fill="#000"/>
<path d="M83.31 396.66 L86.61 390.86 L89.91 396.66 Z" fill="#000"/>
<path d="M99.37 406.85 L102.67 401.05 L105.97 406.85 Z" fill="#000"/>
<path d="M115.42 412.30 L118.72 406.50 L122.02 412.30 Z" fill="#000"/>
<path d="M147.54 415.52 L150.84 409.72 L154.14 415.52 Z" fill="#000"/>
<path d="M179.65 399.69 L182.95 393.89 L186.25 399.69 Z" fill="#000"/>
<path d="M211.76 411.20 L215.06 405.40 L218.36 411.20 Z" fill="#000"/>
<rect x="54.47" y="371.18" width="4.65" height="4.65" fill="#fff" stroke="#000" stroke-width="1.35"/>
<rect x="60.20" y="359.75" width="4.65" height="4.65" fill="#fff" stroke="#000" stroke-width="1.35"/>
<rect x="68.23" y="390.01" width="4.65" height="4.65" fill="#fff" stroke="#000" stroke-width="1.35"/>
<rect x="76.26" y="384.90" width="4.65" height="4.65" fill="#fff" stroke="#000" stroke-width="1.35"/>
<rect x="84.29" y="386.42" width="4.65" height="4.65" fill="#fff" stroke="#000" stroke-width="1.35"/>
<rect x="100.34" y="402.56" width="4.65" height="4.65" fill="#fff" stroke="#000" stroke-width="1.35"/>
<rect x="116.40" y="403.77" width="4.65" height="4.65" fill="#fff" stroke="#000" stroke-width="1.35"/>
<rect x="148.51" y="407.08" width="4.65" height="4.65" fill="#fff" stroke="#000" stroke-width="1.35"/>
<rect x="180.62" y="396.58" width="4.65" height="4.65" fill="#fff" stroke="#000" stroke-width="1.35"/>
<rect x="212.74" y="404.86" width="4.65" height="4.65" fill="#fff" stroke="#000" stroke-width="1.35"/>
<line x1="59.50" y1="444.75" x2="82.50" y2="444.75" stroke="#000" stroke-width="1.4"/>
<path d="M56.50 444.75 L61.00 442.15 L61.00 447.35 Z" fill="#000"/>
<path d="M85.50 444.75 L81.00 442.15 L81.00 447.35 Z" fill="#000"/>
<text x="58.50" y="456.25" font-size="11.7" text-anchor="start" font-weight="normal">IL-15</text>
<text x="132.50" y="454.35" font-size="11.5" text-anchor="start" font-weight="normal">Days</text>
<text x="107.20" y="326.30" font-size="11.6" text-anchor="start" font-weight="normal">CD4+ T cells</text>
<text x="-0.10" y="388.70" font-size="11.2" text-anchor="start" font-weight="normal">cells/</text>
<text x="9.00" y="402.10" font-size="11.2" text-anchor="start" font-weight="normal">µl</text>
<path d="M297.50 332.60 H481.20 V431.50 H297.50 Z" fill="none" stroke="#000" stroke-width="1.3"/>
<line x1="295.50" y1="431.50" x2="297.50" y2="431.50" stroke="#000" stroke-width="1"/>
<text x="294.30" y="434.70" font-size="8.9" text-anchor="end" font-weight="normal">0</text>
<line x1="295.50" y1="411.72" x2="297.50" y2="411.72" stroke="#000" stroke-width="1"/>
<text x="294.30" y="414.92" font-size="8.9" text-anchor="end" font-weight="normal">500</text>
<line x1="295.50" y1="391.94" x2="297.50" y2="391.94" stroke="#000" stroke-width="1"/>
<text x="294.30" y="395.14" font-size="8.9" text-anchor="end" font-weight="normal">1000</text>
<line x1="295.50" y1="372.16" x2="297.50" y2="372.16" stroke="#000" stroke-width="1"/>
<text x="294.30" y="375.36" font-size="8.9" text-anchor="end" font-weight="normal">1500</text>
<line x1="295.50" y1="352.38" x2="297.50" y2="352.38" stroke="#000" stroke-width="1"/>
<text x="294.30" y="355.58" font-size="8.9" text-anchor="end" font-weight="normal">2000</text>
<line x1="295.50" y1="332.60" x2="297.50" y2="332.60" stroke="#000" stroke-width="1"/>
<text x="294.30" y="335.80" font-size="8.9" text-anchor="end" font-weight="normal">2500</text>
<line x1="297.50" y1="431.50" x2="297.50" y2="433.50" stroke="#000" stroke-width="1"/>
<text x="297.70" y="442.10" font-size="9.2" text-anchor="middle" font-weight="normal">0</text>
<line x1="320.46" y1="431.50" x2="320.46" y2="433.50" stroke="#000" stroke-width="1"/>
<text x="320.86" y="442.10" font-size="9.2" text-anchor="middle" font-weight="normal">20</text>
<line x1="343.43" y1="431.50" x2="343.43" y2="433.50" stroke="#000" stroke-width="1"/>
<text x="344.02" y="442.10" font-size="9.2" text-anchor="middle" font-weight="normal">40</text>
<line x1="366.39" y1="431.50" x2="366.39" y2="433.50" stroke="#000" stroke-width="1"/>
<text x="367.19" y="442.10" font-size="9.2" text-anchor="middle" font-weight="normal">60</text>
<line x1="389.35" y1="431.50" x2="389.35" y2="433.50" stroke="#000" stroke-width="1"/>
<text x="390.35" y="442.10" font-size="9.2" text-anchor="middle" font-weight="normal">80</text>
<line x1="412.31" y1="431.50" x2="412.31" y2="433.50" stroke="#000" stroke-width="1"/>
<text x="413.51" y="442.10" font-size="9.2" text-anchor="middle" font-weight="normal">100</text>
<line x1="435.27" y1="431.50" x2="435.27" y2="433.50" stroke="#000" stroke-width="1"/>
<text x="436.67" y="442.10" font-size="9.2" text-anchor="middle" font-weight="normal">120</text>
<line x1="458.24" y1="431.50" x2="458.24" y2="433.50" stroke="#000" stroke-width="1"/>
<text x="459.84" y="442.10" font-size="9.2" text-anchor="middle" font-weight="normal">140</text>
<line x1="481.20" y1="431.50" x2="481.20" y2="433.50" stroke="#000" stroke-width="1"/>
<text x="483.00" y="442.10" font-size="9.2" text-anchor="middle" font-weight="normal">160</text>
<rect x="298.2" y="345" width="1.9" height="55" fill="#8a8a8a"/>
<line x1="300.40" y1="345.81" x2="300.40" y2="380.78" stroke="#000" stroke-width="1.4"/>
<line x1="297.60" y1="345.81" x2="303.20" y2="345.81" stroke="#000" stroke-width="1.5"/>
<line x1="297.60" y1="380.78" x2="303.20" y2="380.78" stroke="#000" stroke-width="1.5"/>
<line x1="306.14" y1="364.64" x2="306.14" y2="395.90" stroke="#000" stroke-width="1.4"/>
<line x1="303.34" y1="364.64" x2="308.94" y2="364.64" stroke="#000" stroke-width="1.5"/>
<line x1="303.34" y1="395.90" x2="308.94" y2="395.90" stroke="#000" stroke-width="1.5"/>
<line x1="314.17" y1="389.17" x2="314.17" y2="407.76" stroke="#000" stroke-width="1.4"/>
<line x1="311.37" y1="389.17" x2="316.97" y2="389.17" stroke="#000" stroke-width="1.5"/>
<line x1="311.37" y1="407.76" x2="316.97" y2="407.76" stroke="#000" stroke-width="1.5"/>
<line x1="322.21" y1="407.76" x2="322.21" y2="419.63" stroke="#000" stroke-width="1.4"/>
<line x1="319.41" y1="407.76" x2="325.01" y2="407.76" stroke="#000" stroke-width="1.5"/>
<line x1="319.41" y1="419.63" x2="325.01" y2="419.63" stroke="#000" stroke-width="1.5"/>
<line x1="330.25" y1="409.74" x2="330.25" y2="415.68" stroke="#000" stroke-width="1.4"/>
<line x1="327.45" y1="409.74" x2="333.05" y2="409.74" stroke="#000" stroke-width="1.5"/>
<line x1="327.45" y1="415.68" x2="333.05" y2="415.68" stroke="#000" stroke-width="1.5"/>
<line x1="346.32" y1="407.76" x2="346.32" y2="417.65" stroke="#000" stroke-width="1.4"/>
<line x1="343.52" y1="407.76" x2="349.12" y2="407.76" stroke="#000" stroke-width="1.5"/>
<line x1="343.52" y1="417.65" x2="349.12" y2="417.65" stroke="#000" stroke-width="1.5"/>
<line x1="362.39" y1="395.70" x2="362.39" y2="413.70" stroke="#000" stroke-width="1.4"/>
<line x1="359.59" y1="395.70" x2="365.19" y2="395.70" stroke="#000" stroke-width="1.5"/>
<line x1="359.59" y1="413.70" x2="365.19" y2="413.70" stroke="#000" stroke-width="1.5"/>
<line x1="394.54" y1="367.97" x2="394.54" y2="395.90" stroke="#000" stroke-width="1.4"/>
<line x1="391.74" y1="367.97" x2="397.34" y2="367.97" stroke="#000" stroke-width="1.5"/>
<line x1="391.74" y1="395.90" x2="397.34" y2="395.90" stroke="#000" stroke-width="1.5"/>
<line x1="426.69" y1="377.86" x2="426.69" y2="399.85" stroke="#000" stroke-width="1.4"/>
<line x1="423.89" y1="377.86" x2="429.49" y2="377.86" stroke="#000" stroke-width="1.5"/>
<line x1="423.89" y1="399.85" x2="429.49" y2="399.85" stroke="#000" stroke-width="1.5"/>
<line x1="458.84" y1="384.38" x2="458.84" y2="403.81" stroke="#000" stroke-width="1.4"/>
<line x1="456.04" y1="384.38" x2="461.64" y2="384.38" stroke="#000" stroke-width="1.5"/>
<line x1="456.04" y1="403.81" x2="461.64" y2="403.81" stroke="#000" stroke-width="1.5"/>
<line x1="300.40" y1="362.27" x2="300.40" y2="400.09" stroke="#000" stroke-width="1.4"/>
<line x1="297.60" y1="362.27" x2="303.20" y2="362.27" stroke="#000" stroke-width="1.5"/>
<line x1="297.60" y1="400.09" x2="303.20" y2="400.09" stroke="#000" stroke-width="1.5"/>
<line x1="306.14" y1="384.03" x2="306.14" y2="424.22" stroke="#000" stroke-width="1.4"/>
<line x1="303.34" y1="384.03" x2="308.94" y2="384.03" stroke="#000" stroke-width="1.5"/>
<line x1="303.34" y1="424.22" x2="308.94" y2="424.22" stroke="#000" stroke-width="1.5"/>
<line x1="314.17" y1="403.81" x2="314.17" y2="413.70" stroke="#000" stroke-width="1.4"/>
<line x1="311.37" y1="403.81" x2="316.97" y2="403.81" stroke="#000" stroke-width="1.5"/>
<line x1="311.37" y1="413.70" x2="316.97" y2="413.70" stroke="#000" stroke-width="1.5"/>
<line x1="322.21" y1="407.76" x2="322.21" y2="415.68" stroke="#000" stroke-width="1.4"/>
<line x1="319.41" y1="407.76" x2="325.01" y2="407.76" stroke="#000" stroke-width="1.5"/>
<line x1="319.41" y1="415.68" x2="325.01" y2="415.68" stroke="#000" stroke-width="1.5"/>
<line x1="330.25" y1="394.79" x2="330.25" y2="411.72" stroke="#000" stroke-width="1.4"/>
<line x1="327.45" y1="394.79" x2="333.05" y2="394.79" stroke="#000" stroke-width="1.5"/>
<line x1="327.45" y1="411.72" x2="333.05" y2="411.72" stroke="#000" stroke-width="1.5"/>
<line x1="346.32" y1="396.88" x2="346.32" y2="415.68" stroke="#000" stroke-width="1.4"/>
<line x1="343.52" y1="396.88" x2="349.12" y2="396.88" stroke="#000" stroke-width="1.5"/>
<line x1="343.52" y1="415.68" x2="349.12" y2="415.68" stroke="#000" stroke-width="1.5"/>
<line x1="362.39" y1="403.81" x2="362.39" y2="417.65" stroke="#000" stroke-width="1.4"/>
<line x1="359.59" y1="403.81" x2="365.19" y2="403.81" stroke="#000" stroke-width="1.5"/>
<line x1="359.59" y1="417.65" x2="365.19" y2="417.65" stroke="#000" stroke-width="1.5"/>
<line x1="394.54" y1="384.03" x2="394.54" y2="409.23" stroke="#000" stroke-width="1.4"/>
<line x1="391.74" y1="384.03" x2="397.34" y2="384.03" stroke="#000" stroke-width="1.5"/>
<line x1="391.74" y1="409.23" x2="397.34" y2="409.23" stroke="#000" stroke-width="1.5"/>
<line x1="426.69" y1="384.03" x2="426.69" y2="405.31" stroke="#000" stroke-width="1.4"/>
<line x1="423.89" y1="384.03" x2="429.49" y2="384.03" stroke="#000" stroke-width="1.5"/>
<line x1="423.89" y1="405.31" x2="429.49" y2="405.31" stroke="#000" stroke-width="1.5"/>
<line x1="458.84" y1="387.98" x2="458.84" y2="406.81" stroke="#000" stroke-width="1.4"/>
<line x1="456.04" y1="387.98" x2="461.64" y2="387.98" stroke="#000" stroke-width="1.5"/>
<line x1="456.04" y1="406.81" x2="461.64" y2="406.81" stroke="#000" stroke-width="1.5"/>
<polyline points="300.40,362.15 306.14,381.30 314.17,400.09 322.21,413.34 330.25,412.63 346.32,412.63 362.39,404.92 394.54,383.59 426.69,389.88 458.84,395.18" fill="none" stroke="#000" stroke-width="1.4" stroke-linejoin="miter"/>
<polyline points="300.40,380.78 306.14,400.09 314.17,408.52 322.21,411.72 330.25,403.21 346.32,407.33 362.39,410.41 394.54,396.41 426.69,394.71 458.84,395.90" fill="none" stroke="#000" stroke-width="1.4" stroke-linejoin="miter"/>
<path d="M297.10 383.39 L300.40 377.59 L303.70 383.39 Z" fill="#000"/>
<path d="M302.84 402.70 L306.14 396.90 L309.44 402.70 Z" fill="#000"/>
<path d="M310.87 411.13 L314.17 405.33 L317.47 411.13 Z" fill="#000"/>
<path d="M318.91 414.33 L322.21 408.53 L325.51 414.33 Z" fill="#000"/>
<path d="M326.95 405.82 L330.25 400.02 L333.55 405.82 Z" fill="#000"/>
<path d="M343.02 409.94 L346.32 404.14 L349.62 409.94 Z" fill="#000"/>
<path d="M359.09 413.02 L362.39 407.22 L365.69 413.02 Z" fill="#000"/>
<path d="M391.24 399.02 L394.54 393.22 L397.84 399.02 Z" fill="#000"/>
<path d="M423.39 397.32 L426.69 391.52 L429.99 397.32 Z" fill="#000"/>
<path d="M455.54 398.51 L458.84 392.71 L462.14 398.51 Z" fill="#000"/>
<rect x="298.07" y="359.83" width="4.65" height="4.65" fill="#fff" stroke="#000" stroke-width="1.35"/>
<rect x="303.81" y="378.97" width="4.65" height="4.65" fill="#fff" stroke="#000" stroke-width="1.35"/>
<rect x="311.85" y="397.76" width="4.65" height="4.65" fill="#fff" stroke="#000" stroke-width="1.35"/>
<rect x="319.89" y="411.02" width="4.65" height="4.65" fill="#fff" stroke="#000" stroke-width="1.35"/>
<rect x="327.92" y="410.30" width="4.65" height="4.65" fill="#fff" stroke="#000" stroke-width="1.35"/>
<rect x="344.00" y="410.30" width="4.65" height="4.65" fill="#fff" stroke="#000" stroke-width="1.35"/>
<rect x="360.07" y="402.59" width="4.65" height="4.65" fill="#fff" stroke="#000" stroke-width="1.35"/>
<rect x="392.22" y="381.27" width="4.65" height="4.65" fill="#fff" stroke="#000" stroke-width="1.35"/>
<rect x="424.37" y="387.56" width="4.65" height="4.65" fill="#fff" stroke="#000" stroke-width="1.35"/>
<rect x="456.51" y="392.86" width="4.65" height="4.65" fill="#fff" stroke="#000" stroke-width="1.35"/>
<line x1="302.50" y1="444.50" x2="325.50" y2="444.50" stroke="#000" stroke-width="1.4"/>
<path d="M299.50 444.50 L304.00 441.90 L304.00 447.10 Z" fill="#000"/>
<path d="M328.50 444.50 L324.00 441.90 L324.00 447.10 Z" fill="#000"/>
<text x="301.50" y="456.00" font-size="11.7" text-anchor="start" font-weight="normal">IL-15</text>
<text x="375.50" y="454.10" font-size="11.5" text-anchor="start" font-weight="normal">Days</text>
<text x="346.60" y="326.30" font-size="11.6" text-anchor="start" font-weight="normal">CD20+ B cells</text>
<text x="246.20" y="383.50" font-size="11.2" text-anchor="start" font-weight="normal">cells/</text>
<text x="255.30" y="396.90" font-size="11.2" text-anchor="start" font-weight="normal">µl</text>
<text x="3.00" y="17.60" font-size="8.6" text-anchor="start" font-weight="bold">A</text>
<text x="2.60" y="170.00" font-size="8.6" text-anchor="start" font-weight="bold">B</text>
<path d="M485.7 29.0 L488.2 23.6 L490.7 29.0 Z" fill="#000"/>
<rect x="486.6" y="39.9" width="4.4" height="4.6" fill="#fff" stroke="#000" stroke-width="1.15"/>
<text x="494.40" y="28.70" font-size="11.5" text-anchor="start" font-weight="normal">Untreated animals</text>
<text x="494.40" y="44.60" font-size="11.5" text-anchor="start" font-weight="normal">IL15-treated animals</text>
<text x="490.30" y="117.00" font-size="11.5" text-anchor="start" font-weight="normal">* p = 0.044</text>
<text x="488.60" y="258.80" font-size="11.5" text-anchor="start" font-weight="normal">*</text>
<text x="499.40" y="258.80" font-size="11.5" text-anchor="start" font-weight="normal">p = 0.049</text>
<text x="487.90" y="272.40" font-size="11.5" text-anchor="start" font-weight="normal">**</text>
<text x="499.90" y="272.30" font-size="11.5" text-anchor="start" font-weight="normal">p = 0.02</text>
<rect x="290.6" y="112.9" width="6.3" height="11.2" fill="none" stroke="#000" stroke-width="0.95"/>
</svg>
</body></html>
